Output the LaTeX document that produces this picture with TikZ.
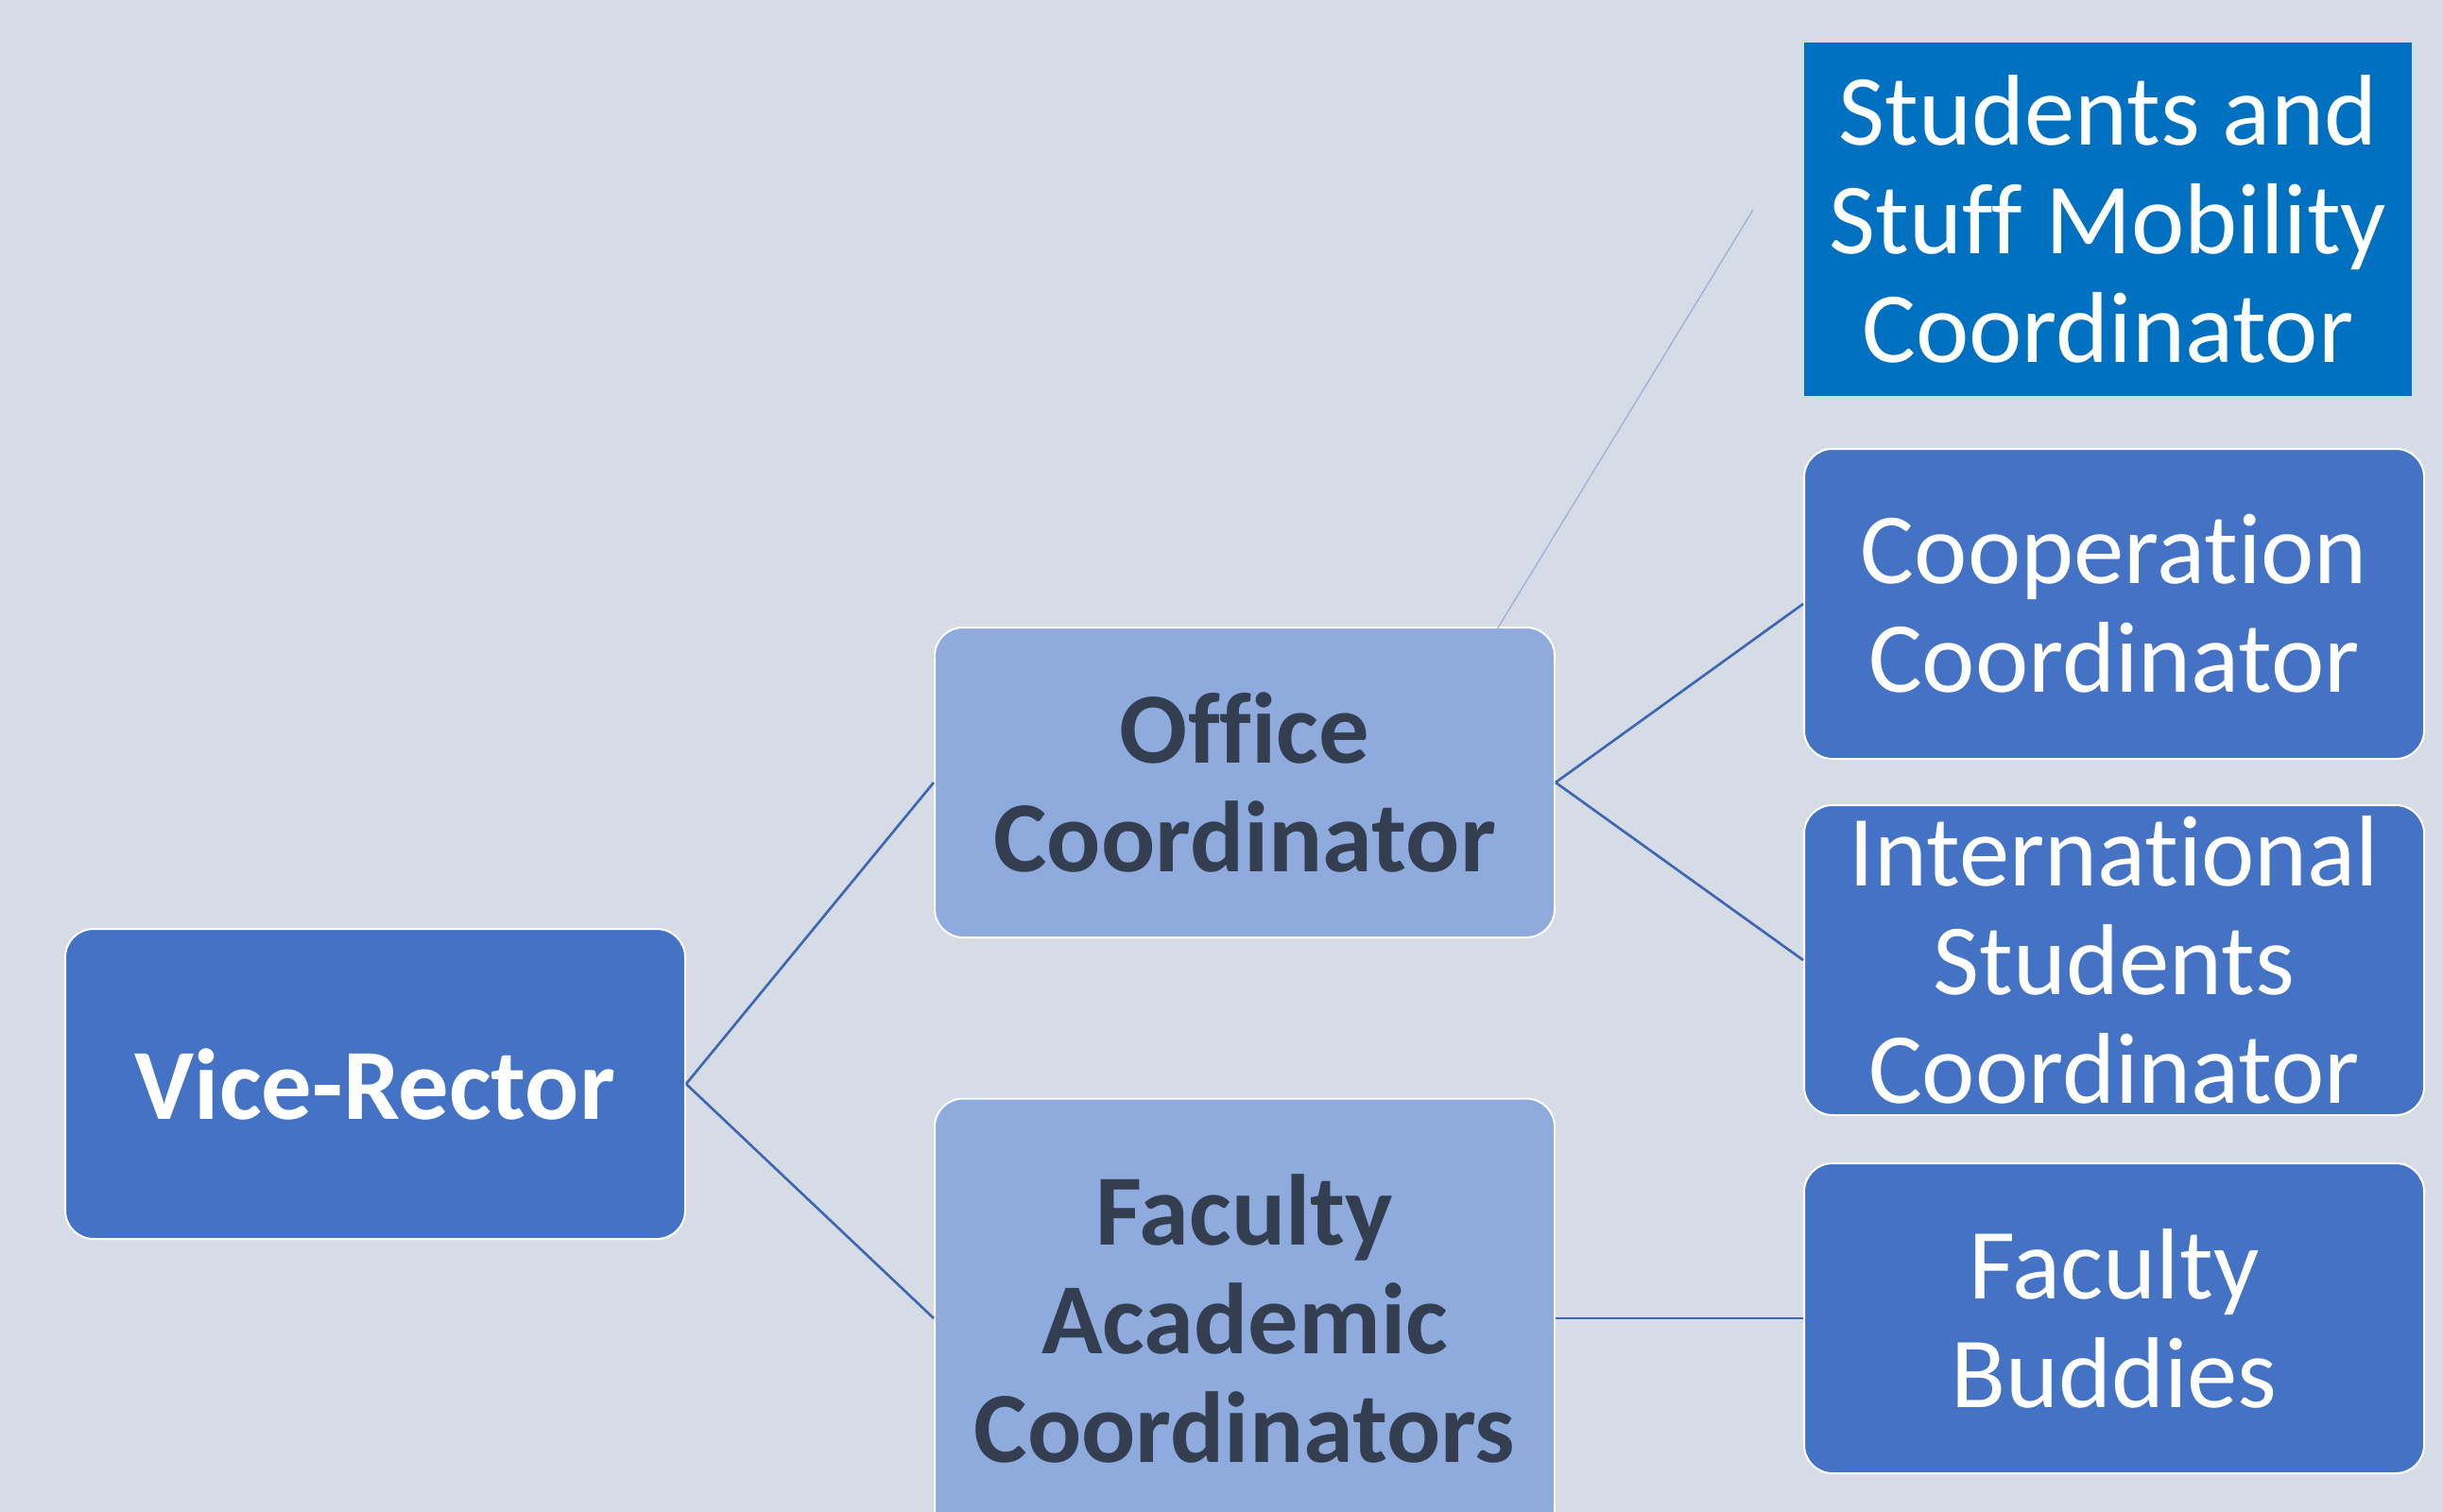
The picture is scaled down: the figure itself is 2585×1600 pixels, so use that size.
\documentclass[tikz,border=0pt]{standalone}
\usepackage{fontspec}
\setmainfont{Carlito}[Ligatures=NoCommon]
\usepackage{tikz}

\definecolor{bgcol}{HTML}{D6DCE5}
\definecolor{darkbox}{HTML}{4472C4}
\definecolor{lightbox}{HTML}{8FAADC}
\definecolor{topbox}{HTML}{0070C0}
\definecolor{darktext}{HTML}{333F50}
\definecolor{linkcol}{HTML}{3F66B4}
\definecolor{faintcol}{HTML}{A3ADD9}

\tikzset{
  unit/.style={rectangle, rounded corners=9pt, draw=white, line width=0.6pt,
    minimum width=196.8pt, minimum height=98.4pt, align=center, inner sep=0pt,
    font=\fontsize{32}{34.5}\selectfont},
  head/.style={unit, fill=darkbox, text=white, font=\fontsize{32}{34.5}\selectfont\bfseries},
  middle/.style={unit, fill=lightbox, text=darktext, font=\fontsize{32}{34.5}\selectfont\bfseries},
  leaf/.style={unit, fill=darkbox, text=white},
  link/.style={draw=linkcol, line width=0.8pt}
}

\begin{document}
\begin{tikzpicture}[x=0.3pt,y=-0.3pt]
\useasboundingbox (0,0) rectangle (2585,1600);
\clip (0,0) rectangle (2585,1600);
\fill[bgcol] (0,0) rectangle (2585,1600);

% left
\node[head] (vr) at (397,1147) {Vice-Rector};

% middle column
\node[middle] (oc) at (1317,828) {Office\\Coordinator};
\node[middle, minimum height=139.5pt] (fac) at (1317,1395) {Faculty\\Academic\\Coordinators};

% right column
\node[leaf, rounded corners=0pt, draw=none, fill=topbox, minimum width=192.9pt, minimum height=112.2pt] (smc) at (2230.5,232) {Students and\\Stuff Mobility\\Coordinator};
\node[leaf] (coop) at (2237,639) {Cooperation\\Coordinator};
\node[leaf] (isc) at (2237,1016) {International\\Students\\Coordinator};
\node[leaf] (fb) at (2237,1395) {Faculty\\Buddies};

% links
\draw[link] (vr.east) -- (oc.west);
\draw[link] (vr.east) -- (fac.west);
\draw[link] (oc.east) -- (coop.west);
\draw[link] (oc.east) -- (isc.west);
\draw[link] (fac.east) -- (fb.west);

\coordinate (s1) at (1855,222); \coordinate (s2) at (1584,666);
\draw[faintcol, line width=0.4pt] (s1) -- (s2);

\end{tikzpicture}
\end{document}
